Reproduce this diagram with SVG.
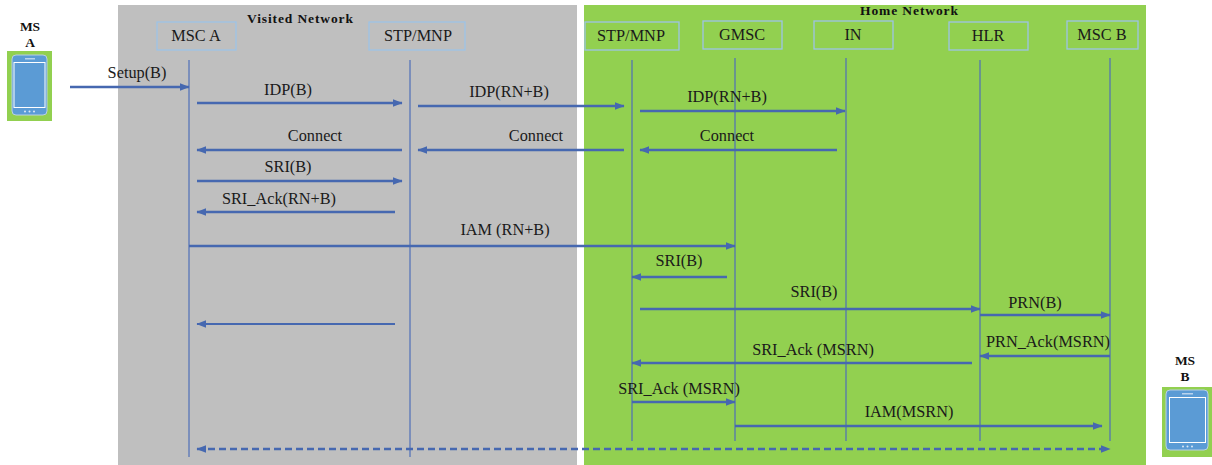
<svg xmlns="http://www.w3.org/2000/svg" width="1212" height="465" viewBox="0 0 1212 465">
<style>
text{font-family:"Liberation Serif","DejaVu Serif",serif;font-size:16.3px;fill:#1a1a1a;text-anchor:middle}
.b{font-weight:bold;font-size:13.5px;fill:#111}
.box{fill:none;stroke:#9dc3e6;stroke-width:1.3}
.life{stroke:#4f6fb8;stroke-width:1.2;fill:none}
.msg{stroke:#4668b0;stroke-width:2.4;fill:none;marker-end:url(#a)}
.thin{stroke-width:1.8}
.dash{stroke:#4668b0;stroke-width:2.4;fill:none;stroke-dasharray:7 4;marker-end:url(#a);marker-start:url(#s)}
.scr{fill:#5b9bd5;stroke:#fff;stroke-width:1}
.body{fill:#5b9bd5;stroke:#b9cfe4;stroke-width:1}
.pad{fill:#92d050}
</style>
<defs>
<marker id="a" markerWidth="10" markerHeight="8" refX="7.5" refY="3.2" orient="auto" markerUnits="userSpaceOnUse" viewBox="0 0 8 6.4"><path d="M0 0L8 3.2L0 6.4z" fill="#4668b0"/></marker>
<marker id="s" markerWidth="10" markerHeight="8" refX="0.5" refY="3.2" orient="auto" markerUnits="userSpaceOnUse" viewBox="0 0 8 6.4"><path d="M8 0L0 3.2L8 6.4z" fill="#4668b0"/></marker>
</defs>
<g id="zones">
<rect x="118" y="5" width="459" height="460" fill="#bfbfbf"/>
<rect x="584" y="5" width="562" height="460" fill="#92d050"/>
<text class="b" x="300" y="23" textLength="106">Visited Network</text>
<text class="b" x="909" y="15" textLength="98">Home Network</text>
</g>
<g id="ms-a">
<text class="b" x="30" y="31">MS</text>
<text class="b" x="30" y="47">A</text>
<rect class="pad" x="7" y="51" width="45" height="70"/>
<rect class="body" x="12" y="55" width="35" height="60" rx="4"/>
<rect class="scr" x="14" y="62.500" width="31" height="45"/>
<rect x="25" y="58" width="10" height="1.500" fill="#b9d3ee"/>
<circle cx="25" cy="111.500" r="1" fill="#dbe8f6"/><circle cx="29.500" cy="111.500" r="1" fill="#dbe8f6"/><circle cx="34" cy="111.500" r="1" fill="#dbe8f6"/>
</g>
<g id="ms-b">
<text class="b" x="1185" y="365">MS</text>
<text class="b" x="1185" y="381">B</text>
<rect class="pad" x="1162" y="387" width="50" height="70"/>
<rect class="body" x="1166" y="390" width="42" height="60" rx="4"/>
<rect class="scr" x="1169.500" y="397.500" width="36" height="45"/>
<rect x="1182" y="393" width="11" height="1.500" fill="#b9d3ee"/>
<circle cx="1183" cy="446.500" r="1" fill="#dbe8f6"/><circle cx="1187.500" cy="446.500" r="1" fill="#dbe8f6"/><circle cx="1192" cy="446.500" r="1" fill="#dbe8f6"/>
</g>
<g id="msc-a"><rect class="box" x="157" y="22" width="79" height="28"/><text x="196" y="41">MSC A</text></g>
<g id="stp-mnp-v"><rect class="box" x="369" y="22" width="96" height="28"/><text x="418" y="41">STP/MNP</text></g>
<g id="stp-mnp-h"><rect class="box" x="585" y="22" width="94" height="28"/><text x="631" y="41">STP/MNP</text></g>
<g id="gmsc"><rect class="box" x="703" y="21" width="79" height="28"/><text x="742" y="40">GMSC</text></g>
<g id="in"><rect class="box" x="814" y="21" width="79" height="28"/><text x="853" y="40">IN</text></g>
<g id="hlr"><rect class="box" x="949" y="22" width="79" height="28"/><text x="988" y="41">HLR</text></g>
<g id="msc-b"><rect class="box" x="1067" y="21" width="71" height="28"/><text x="1102" y="40">MSC B</text></g>
<g id="connectors">
<path class="life" d="M189 60V457M410 60V457M632 60V441M735 58V441M846 58V441M980 60V441M1110 58V441"/>
<path class="msg" d="M70 87H189"/>
<path class="msg" d="M197 103H402"/>
<path class="msg" d="M418 106H624"/>
<path class="msg" d="M640 111H845"/>
<path class="msg" d="M402 150H197"/>
<path class="msg" d="M624 150H418"/>
<path class="msg" d="M837 150H640"/>
<path class="msg" d="M197 181H402"/>
<path class="msg" d="M395 212H197"/>
<path class="msg" d="M189 246H735"/>
<path class="msg" d="M727 277H632"/>
<path class="msg" d="M640 309H980"/>
<path class="msg" d="M980 315H1110"/>
<path class="msg thin" d="M395 324H197"/>
<path class="msg" d="M1110 356H980"/>
<path class="msg" d="M972 363H632"/>
<path class="msg" d="M632 402H735"/>
<path class="msg" d="M735 426H1102"/>
<path class="dash" d="M197 449H1110"/>
</g>
<g id="labels">
<text x="137" y="78">Setup(B)</text>
<text x="288" y="95">IDP(B)</text>
<text x="509" y="97">IDP(RN+B)</text>
<text x="727" y="102">IDP(RN+B)</text>
<text x="315" y="141">Connect</text>
<text x="536" y="141">Connect</text>
<text x="727" y="141">Connect</text>
<text x="288" y="172">SRI(B)</text>
<text x="279" y="204">SRI_Ack(RN+B)</text>
<text x="505" y="235">IAM (RN+B)</text>
<text x="679" y="266">SRI(B)</text>
<text x="814" y="297">SRI(B)</text>
<text x="1035" y="308">PRN(B)</text>
<text x="1048" y="347">PRN_Ack(MSRN)</text>
<text x="813" y="355">SRI_Ack (MSRN)</text>
<text x="679" y="394">SRI_Ack (MSRN)</text>
<text x="909" y="417">IAM(MSRN)</text>
</g>
</svg>
